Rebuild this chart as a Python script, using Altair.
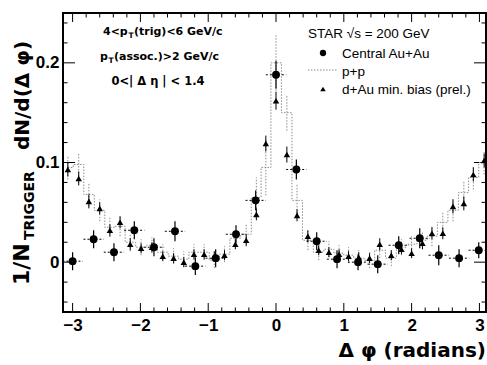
import altair as alt
import numpy as np
import pandas as pd

# ---- Central Au+Au (filled circles) ----
au_phi = [-3.00, -2.69, -2.39, -2.09, -1.80, -1.49, -1.19, -0.89, -0.59, -0.30, 0.00,
          0.30, 0.60, 0.90, 1.21, 1.50, 1.81, 2.12, 2.40, 2.70, 2.99]
au_val = [0.001, 0.023, 0.010, 0.032, 0.015, 0.031, -0.004, 0.004, 0.028, 0.062, 0.188,
          0.093, 0.021, 0.003, 0.000, -0.002, 0.017, 0.024, 0.007, 0.004, 0.012]
au_err = [0.009, 0.009, 0.009, 0.009, 0.009, 0.010, 0.009, 0.009, 0.009, 0.010, 0.014,
          0.010, 0.009, 0.009, 0.008, 0.009, 0.009, 0.010, 0.010, 0.009, 0.008]

# ---- d+Au min. bias (triangles) ----
dau_phi = [-3.07, -2.91, -2.76, -2.60, -2.45, -2.30, -2.15, -1.99, -1.83, -1.67, -1.51,
           -1.36, -1.21, -1.06, -0.91, -0.76, -0.60, -0.44, -0.29, -0.15, 0.00, 0.16,
           0.31, 0.47, 0.63, 0.78, 0.93, 1.07, 1.22, 1.38, 1.53, 1.70, 1.85, 2.00,
           2.16, 2.30, 2.46, 2.61, 2.77, 2.91, 3.07]
dau_val = [0.093, 0.084, 0.061, 0.054, 0.032, 0.040, 0.018, 0.014, 0.015, 0.006, 0.004,
           0.000, 0.008, 0.008, 0.006, 0.007, 0.018, 0.022, 0.048, 0.119, 0.162, 0.108,
           0.047, 0.026, 0.012, 0.010, 0.008, 0.006, 0.005, 0.004, 0.018, 0.007, 0.013,
           0.009, 0.019, 0.029, 0.029, 0.056, 0.059, 0.088, 0.102]
dau_err = [0.007, 0.007, 0.007, 0.006, 0.006, 0.006, 0.006, 0.005, 0.005, 0.005, 0.005,
           0.005, 0.005, 0.005, 0.005, 0.005, 0.005, 0.006, 0.006, 0.008, 0.009, 0.008,
           0.006, 0.006, 0.005, 0.005, 0.005, 0.005, 0.005, 0.005, 0.006, 0.005, 0.005,
           0.005, 0.006, 0.006, 0.006, 0.007, 0.007, 0.007, 0.007]

# ---- p+p (dotted histogram) ----
pp_phi = dau_phi
pp_val = [0.095, 0.098, 0.068, 0.052, 0.035, 0.036, 0.020, 0.015, 0.017, 0.010, 0.006,
          0.003, 0.010, 0.010, 0.002, 0.008, 0.024, 0.028, 0.065, 0.095, 0.200, 0.150,
          0.062, 0.022, 0.010, 0.013, 0.009, 0.007, 0.004, 0.002, 0.012, 0.004, 0.015,
          0.018, 0.022, 0.026, 0.040, 0.052, 0.070, 0.085, 0.100]
pp_err = [0.012, 0.012, 0.012, 0.011, 0.010, 0.010, 0.009, 0.008, 0.008, 0.008, 0.008,
          0.008, 0.008, 0.008, 0.008, 0.008, 0.009, 0.010, 0.020, 0.028, 0.028, 0.018,
          0.016, 0.010, 0.008, 0.008, 0.008, 0.008, 0.008, 0.008, 0.008, 0.008, 0.008,
          0.008, 0.009, 0.010, 0.010, 0.011, 0.012, 0.012, 0.012]

x_labels = [-3, -2, -1, 0, 1, 2, 3]
y_labels = [0.0, 0.1, 0.2]

X_DOM = [-3.1416, 3.097]
Y_DOM = [-0.05, 0.25]
W, H = 423, 299
PAD_L, PAD_T = 63, 13

LABEL_FONT = "Liberation Sans Narrow, Liberation Sans, Arial"
BOLD_FONT = "DejaVu Sans"
TEXT_FONT = "Liberation Sans"
PP_GREY = "#8c8c8c"

xs = alt.Scale(domain=X_DOM, nice=False, zero=False)
ys = alt.Scale(domain=Y_DOM, nice=False, zero=False)

# identical axis definitions on every layer so the shared axes merge cleanly
x_axis = alt.Axis(values=x_labels, ticks=False, domain=False, grid=False,
                  labelFont=LABEL_FONT, labelFontSize=17, labelFontWeight="bold",
                  labelColor="black", labelPadding=5, format="d")
y_axis = alt.Axis(values=y_labels, ticks=False, domain=False, grid=False,
                  labelFont=LABEL_FONT, labelFontSize=17, labelFontWeight="bold",
                  labelColor="black", labelPadding=4, format="~g")


def X(f="phi"):
    return alt.X(f"{f}:Q", scale=xs, axis=x_axis, title=None)


def Y(f="v"):
    return alt.Y(f"{f}:Q", scale=ys, axis=y_axis, title=None)


au = pd.DataFrame({"phi": au_phi, "v": au_val, "e": au_err})
au["lo"] = au.v - au.e
au["hi"] = au.v + au.e
au["xl"] = au.phi - 0.15
au["xr"] = au.phi + 0.15

dau = pd.DataFrame({"phi": dau_phi, "v": dau_val, "e": dau_err})
dau["lo"] = dau.v - dau.e
dau["hi"] = dau.v + dau.e

pp = pd.DataFrame({"phi": pp_phi, "v": pp_val, "e": pp_err})
pp["lo"] = pp.v - pp.e
pp["hi"] = pp.v + pp.e

# ---- inward-pointing frame ticks on all four sides ----
x_minor = [t for t in np.round(np.arange(-3.0, 3.01, 0.2), 2) if abs(t - round(t)) > 1e-6]
y_minor = [t for t in np.round(np.arange(-0.04, 0.241, 0.02), 3)
           if min(abs(t - m) for m in y_labels) > 1e-6]
px_y = (Y_DOM[1] - Y_DOM[0]) / H
px_x = (X_DOM[1] - X_DOM[0]) / W
rows = []
for ticks, n in ((x_labels, 9), (x_minor, 4.5)):
    for t in ticks:
        rows.append(dict(x=t, x2=t, y=Y_DOM[0], y2=Y_DOM[0] + n * px_y))
        rows.append(dict(x=t, x2=t, y=Y_DOM[1], y2=Y_DOM[1] - n * px_y))
for ticks, n in ((y_labels, 12), (y_minor, 4.5)):
    for t in ticks:
        rows.append(dict(y=t, y2=t, x=X_DOM[0], x2=X_DOM[0] + n * px_x))
        rows.append(dict(y=t, y2=t, x=X_DOM[1], x2=X_DOM[1] - n * px_x))
ticks_df = pd.DataFrame(rows)

tick_layer = alt.Chart(ticks_df).mark_rule(color="black", strokeWidth=1).encode(
    x=X("x"), x2="x2", y=Y("y"), y2="y2")

# p+p histogram and its dotted error bars
pp_line = alt.Chart(pp).mark_line(interpolate="step", color=PP_GREY, strokeWidth=1,
                                  strokeDash=[1.5, 1.5]).encode(x=X(), y=Y())
pp_err_layer = alt.Chart(pp).mark_rule(color=PP_GREY, strokeWidth=1,
                                       strokeDash=[1.5, 1.5]).encode(
    x=X(), y=Y("lo"), y2="hi")

# d+Au triangles
dau_err_layer = alt.Chart(dau).mark_rule(color="black", strokeWidth=1).encode(
    x=X(), y=Y("lo"), y2="hi")
dau_pts = alt.Chart(dau).mark_point(shape="triangle-up", filled=True, color="black",
                                    opacity=1, size=42).encode(x=X(), y=Y())

# Au+Au circles
au_verr = alt.Chart(au).mark_rule(color="black", strokeWidth=1.2).encode(
    x=X(), y=Y("lo"), y2="hi")
au_herr = alt.Chart(au).mark_rule(color="black", strokeWidth=1,
                                  strokeDash=[2, 2]).encode(x=X("xl"), x2="xr", y=Y())
au_pts = alt.Chart(au).mark_point(shape="circle", filled=True, color="black",
                                  opacity=1, size=62).encode(x=X(), y=Y())


def label(txt, x, y, size, font=TEXT_FONT, weight="normal", align="left",
          angle=0, baseline="middle"):
    return alt.Chart(pd.DataFrame({"t": [txt]})).mark_text(
        align=align, baseline=baseline, angle=angle, font=font, fontSize=size,
        fontWeight=weight, color="black",
    ).encode(x=alt.value(x - PAD_L), y=alt.value(y - PAD_T), text="t:N")


texts = [
    # vertical axis title: 1/N_TRIGGER dN/d(Δ φ)
    label("1/N", 29, 285, 22, BOLD_FONT, "bold", angle=270, baseline="alphabetic"),
    label("TRIGGER", 34, 240, 14, BOLD_FONT, "bold", angle=270, baseline="alphabetic"),
    label("dN/d(Δ φ)", 29, 150, 20, BOLD_FONT, "bold", angle=270, baseline="alphabetic"),
    # horizontal axis title
    label("Δ φ (radians)", 486, 357, 20, BOLD_FONT, "bold", align="right",
          baseline="alphabetic"),
    # cut annotations
    label("4<p", 103, 32, 11, BOLD_FONT, "bold"),
    label("T", 128.5, 36, 7.5, BOLD_FONT, "bold"),
    label("(trig)<6 GeV/c", 134, 32, 11, BOLD_FONT, "bold"),
    label("p", 100, 57, 11, BOLD_FONT, "bold"),
    label("T", 108.5, 61, 7.5, BOLD_FONT, "bold"),
    label("(assoc.)>2 GeV/c", 114, 57, 11, BOLD_FONT, "bold"),
    label("0<| Δ η | < 1.4", 158, 82, 11.5, BOLD_FONT, "bold", align="center"),
    # legend
    label("STAR √s = 200 GeV", 308, 34, 13.5),
    label("Central Au+Au", 342, 54, 13.5),
    label("p+p", 342, 72, 13.5),
    label("d+Au min. bias (prel.)", 342, 90, 13.5),
]

one = pd.DataFrame({"k": [0]})
legend_marks = [
    alt.Chart(one).mark_point(shape="circle", filled=True, color="black", opacity=1,
                              size=40).encode(x=alt.value(323 - PAD_L),
                                              y=alt.value(53 - PAD_T)),
    alt.Chart(one).mark_rule(color=PP_GREY, strokeWidth=1, strokeDash=[1.5, 1.5]).encode(
        x=alt.value(308 - PAD_L), x2=alt.value(337 - PAD_L), y=alt.value(70 - PAD_T)),
    alt.Chart(one).mark_point(shape="triangle-up", filled=True, color="black", opacity=1,
                              size=30).encode(x=alt.value(323 - PAD_L),
                                              y=alt.value(89 - PAD_T)),
]

chart = alt.layer(
    tick_layer, pp_line, pp_err_layer, dau_err_layer, dau_pts,
    au_verr, au_herr, au_pts, *texts, *legend_marks,
).properties(
    width=W, height=H,
    autosize=alt.AutoSizeParams(type="none"),
    padding={"left": PAD_L, "top": PAD_T, "right": 487 - PAD_L - W, "bottom": 365 - PAD_T - H},
    background="white",
).configure_view(stroke="black", strokeWidth=2)

chart.save("out.html", embed_options={"renderer": "svg", "actions": False})
